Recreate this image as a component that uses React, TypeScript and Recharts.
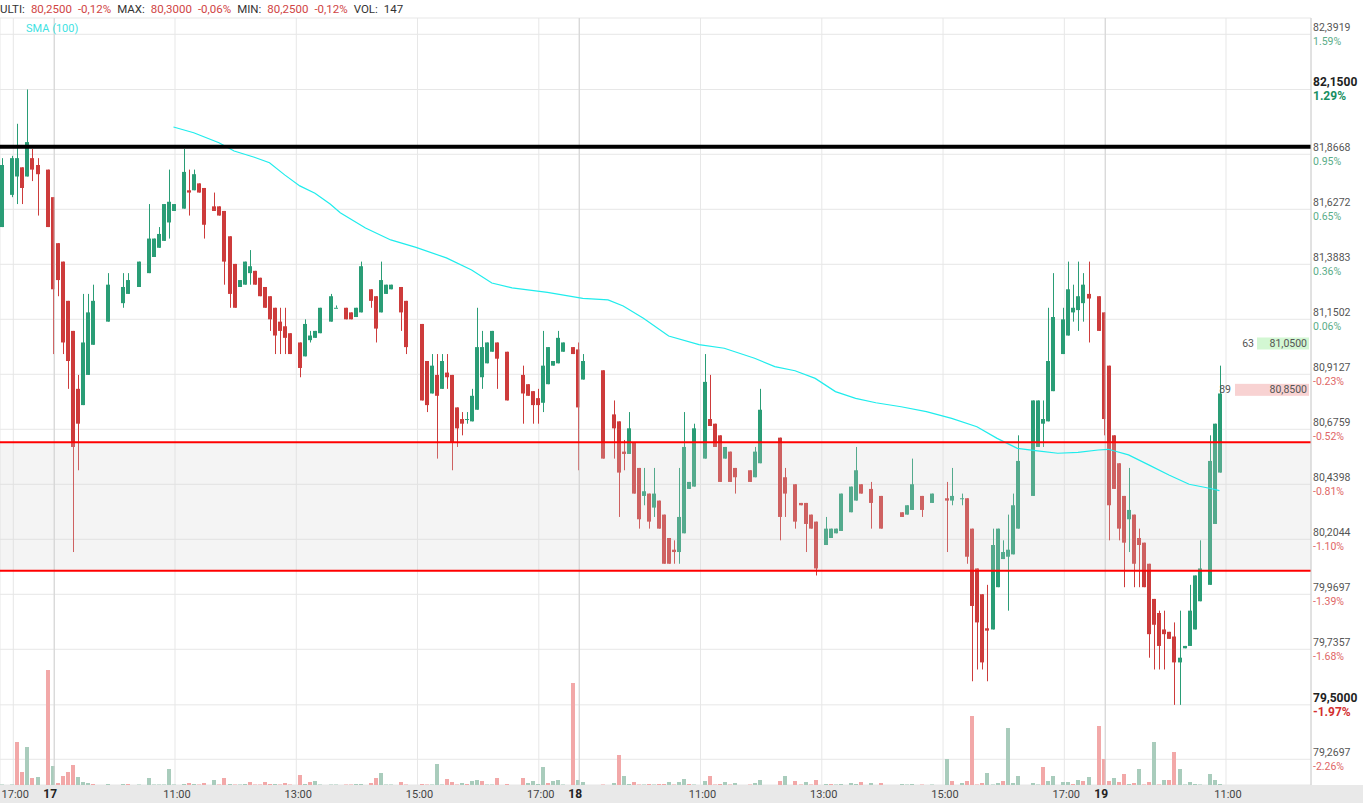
import React from 'react';
import { ComposedChart, Bar, Line, XAxis, YAxis, CartesianGrid, ReferenceLine, ReferenceArea } from 'recharts';

// 5-minute slots (gaps = no trades)
const slots = [
  -3, -1, 0, 1, 2, 3, 4, 6, 7, 8,
  9, 10, 11, 12, 13, 14, 15, 18, 21, 22,
  24, 26, 27, 28, 29, 30, 31, 33, 34, 35,
  36, 37, 39, 40, 41, 42, 43, 44, 45, 46,
  47, 48, 49, 50, 51, 52, 53, 54, 56, 57,
  58, 59, 60, 62, 63, 65, 66, 67, 68, 70,
  71, 72, 73, 74, 76, 77, 80, 81, 82, 83,
  84, 85, 86, 87, 88, 89, 90, 91, 92, 93,
  94, 95, 97, 100, 101, 102, 103, 104, 105, 106,
  107, 108, 110, 111, 112, 116, 118, 119, 120, 121,
  122, 123, 124, 125, 126, 127, 128, 129, 130, 131,
  132, 133, 134, 136, 137, 138, 139, 140, 141, 142,
  145, 146, 147, 151, 152, 154, 155, 156, 157, 158,
  160, 161, 162, 163, 165, 166, 167, 169, 171, 175,
  176, 177, 179, 181, 184, 185, 187, 188, 189, 190,
  191, 192, 193, 194, 195, 196, 197, 198, 201, 202,
  203, 204, 205, 207, 208, 209, 210, 211, 212, 214,
  215, 216, 217, 218, 219, 220, 221, 222, 223, 224,
  225, 226, 227, 228, 229, 230, 231, 232, 233, 234,
  236, 237, 238,
];

const opens = [
  81.55, 81.69, 81.77, 81.81, 81.77, 81.85, 81.82, 81.80, 81.68, 81.48,
  81.40, 81.23, 81.10, 80.85, 80.78, 80.91, 81.04, 81.14, 81.22, 81.26,
  81.29, 81.35, 81.42, 81.46, 81.49, 81.57, 81.62, 81.63, 81.71, 81.71,
  81.74, 81.72, 81.64, 81.64, 81.62, 81.51, 81.39, 81.29, 81.30, 81.35,
  81.36, 81.33, 81.29, 81.25, 81.20, 81.14, 81.12, 81.09, 81.05, 80.99,
  81.06, 81.07, 81.09, 81.14, 81.20, 81.20, 81.18, 81.16, 81.18, 81.28,
  81.25, 81.18, 81.26, 81.28, 81.29, 81.23, 81.13, 80.97, 80.83, 80.91,
  80.85, 80.92, 80.91, 80.77, 80.72, 80.72, 80.71, 80.76, 80.90, 80.96,
  81.01, 81.05, 81.01, 80.91, 80.87, 80.84, 80.81, 80.79, 80.87, 80.95,
  80.96, 81.01, 81.03, 81.02, 80.89, 80.93, 80.74, 80.71, 80.58, 80.57,
  80.62, 80.51, 80.39, 80.40, 80.34, 80.37, 80.31, 80.21, 80.16, 80.15,
  80.23, 80.42, 80.43, 80.55, 80.72, 80.70, 80.65, 80.55, 80.58, 80.51,
  80.50, 80.47, 80.53, 80.64, 80.47, 80.44, 80.36, 80.36, 80.31, 80.28,
  80.18, 80.21, 80.23, 80.24, 80.32, 80.37, 80.44, 80.42, 80.39, 80.32,
  80.31, 80.33, 80.39, 80.36, 80.38, 80.37, 80.38, 80.38, 80.25, 80.08,
  79.97, 79.825, 79.82, 80.00, 80.12, 80.13, 80.14, 80.25, 80.39, 80.60,
  80.70, 80.71, 80.84, 81.00, 81.08, 81.18, 81.19, 81.22, 81.26, 81.25,
  81.18, 80.95, 80.65, 80.53, 80.39, 80.29, 80.31, 80.21, 80.19, 80.10,
  79.95, 79.89, 79.82, 79.81, 79.79, 79.68, 79.74, 79.75, 79.82, 79.94,
  80.01, 80.27, 80.49,
];

const highs = [
  81.85, 81.86, 82.00, 81.81, 82.15, 81.89, 81.85, 81.80, 81.68, 81.48,
  81.40, 81.23, 81.10, 80.91, 81.26, 81.26, 81.30, 81.35, 81.35, 81.35,
  81.40, 81.65, 81.50, 81.55, 81.65, 81.80, 81.65, 81.89, 81.80, 81.80,
  81.74, 81.72, 81.70, 81.64, 81.62, 81.51, 81.39, 81.32, 81.40, 81.45,
  81.36, 81.33, 81.29, 81.25, 81.20, 81.20, 81.20, 81.09, 81.05, 81.15,
  81.10, 81.10, 81.20, 81.26, 81.21, 81.20, 81.18, 81.20, 81.40, 81.28,
  81.25, 81.40, 81.30, 81.30, 81.29, 81.23, 81.13, 80.97, 81.00, 81.00,
  81.00, 81.00, 80.91, 80.77, 80.75, 80.75, 80.85, 81.20, 81.10, 81.05,
  81.10, 81.05, 81.01, 80.95, 80.87, 80.84, 80.85, 81.10, 81.03, 80.97,
  81.10, 81.05, 81.03, 81.05, 81.00, 80.93, 80.80, 80.71, 80.63, 80.75,
  80.62, 80.51, 80.51, 80.40, 80.51, 80.37, 80.31, 80.21, 80.20, 80.51,
  80.75, 80.45, 80.70, 81.00, 80.91, 80.70, 80.65, 80.60, 80.58, 80.51,
  80.50, 80.60, 80.85, 80.64, 80.51, 80.44, 80.36, 80.36, 80.31, 80.28,
  80.30, 80.25, 80.25, 80.40, 80.43, 80.60, 80.44, 80.45, 80.39, 80.32,
  80.35, 80.55, 80.39, 80.40, 80.45, 80.51, 80.40, 80.38, 80.25, 80.08,
  79.97, 80.01, 80.25, 80.25, 80.20, 80.31, 80.40, 80.65, 80.80, 80.80,
  80.80, 81.20, 81.35, 81.20, 81.40, 81.30, 81.40, 81.35, 81.40, 81.25,
  81.18, 80.95, 80.65, 80.53, 80.39, 80.51, 80.31, 80.25, 80.19, 80.10,
  79.95, 79.90, 79.90, 79.81, 79.85, 79.90, 79.75, 80.01, 80.05, 80.20,
  80.65, 80.70, 80.95,
];

const lows = [
  81.55, 81.68, 81.65, 81.65, 81.77, 81.75, 81.60, 81.55, 81.00, 81.25,
  81.00, 80.85, 80.15, 80.50, 80.78, 80.91, 81.04, 81.14, 81.20, 81.26,
  81.29, 81.35, 81.42, 81.46, 81.49, 81.50, 81.62, 81.63, 81.60, 81.71,
  81.70, 81.50, 81.62, 81.60, 81.30, 81.20, 81.20, 81.29, 81.30, 81.30,
  81.30, 81.25, 81.20, 81.10, 81.00, 81.00, 81.00, 81.00, 80.90, 80.99,
  81.05, 81.07, 81.09, 81.14, 81.20, 81.15, 81.15, 81.16, 81.18, 81.20,
  81.05, 81.18, 81.26, 81.28, 81.10, 81.00, 80.80, 80.75, 80.83, 80.55,
  80.85, 80.85, 80.50, 80.60, 80.65, 80.70, 80.71, 80.76, 80.85, 80.96,
  81.01, 80.85, 80.80, 80.70, 80.82, 80.70, 80.70, 80.75, 80.87, 80.95,
  80.96, 81.01, 81.00, 80.50, 80.89, 80.55, 80.55, 80.30, 80.50, 80.57,
  80.40, 80.25, 80.35, 80.25, 80.30, 80.25, 80.10, 80.10, 80.10, 80.10,
  80.23, 80.42, 80.43, 80.55, 80.69, 80.60, 80.45, 80.55, 80.45, 80.40,
  80.45, 80.47, 80.53, 80.20, 80.30, 80.25, 80.35, 80.15, 80.25, 80.05,
  80.18, 80.21, 80.23, 80.24, 80.32, 80.37, 80.40, 80.25, 80.25, 80.30,
  80.31, 80.33, 80.30, 80.36, 80.15, 80.35, 80.35, 80.10, 79.60, 79.65,
  79.65, 79.60, 79.82, 80.00, 80.12, 79.90, 80.14, 80.25, 80.39, 80.60,
  80.60, 80.71, 80.84, 81.00, 81.08, 81.14, 81.10, 81.14, 81.05, 81.10,
  80.65, 80.20, 80.42, 80.20, 80.00, 80.15, 80.00, 80.00, 80.00, 79.70,
  79.65, 79.65, 79.65, 79.78, 79.50, 79.50, 79.74, 79.75, 79.82, 79.94,
  80.01, 80.27, 80.49,
];

const closes = [
  81.82, 81.85, 81.85, 81.72, 81.92, 81.80, 81.78, 81.55, 81.28, 81.32,
  81.05, 80.97, 80.60, 80.70, 81.05, 81.18, 81.23, 81.30, 81.29, 81.32,
  81.40, 81.50, 81.50, 81.52, 81.65, 81.66, 81.65, 81.79, 81.70, 81.78,
  81.70, 81.56, 81.62, 81.60, 81.40, 81.26, 81.20, 81.32, 81.40, 81.38,
  81.30, 81.25, 81.20, 81.15, 81.08, 81.10, 81.07, 81.00, 80.94, 81.13,
  81.08, 81.10, 81.20, 81.25, 81.20, 81.15, 81.15, 81.20, 81.38, 81.23,
  81.11, 81.32, 81.30, 81.30, 81.18, 81.03, 80.80, 80.78, 80.95, 80.82,
  80.97, 80.90, 80.62, 80.68, 80.70, 80.72, 80.82, 81.03, 81.03, 81.05,
  81.10, 80.98, 80.80, 80.83, 80.82, 80.78, 80.78, 80.95, 81.03, 80.97,
  81.07, 81.05, 81.00, 80.77, 80.97, 80.55, 80.68, 80.49, 80.57, 80.68,
  80.40, 80.29, 80.41, 80.28, 80.40, 80.25, 80.10, 80.10, 80.15, 80.30,
  80.60, 80.45, 80.68, 80.88, 80.69, 80.60, 80.45, 80.60, 80.45, 80.47,
  80.45, 80.58, 80.76, 80.30, 80.40, 80.28, 80.35, 80.27, 80.25, 80.08,
  80.25, 80.25, 80.25, 80.40, 80.43, 80.50, 80.40, 80.36, 80.25, 80.30,
  80.35, 80.44, 80.33, 80.40, 80.37, 80.39, 80.38, 80.13, 79.92, 79.85,
  79.68, 79.815, 80.18, 80.25, 80.15, 80.16, 80.35, 80.54, 80.80, 80.80,
  80.72, 80.97, 81.16, 81.15, 81.28, 81.20, 81.25, 81.30, 81.24, 81.10,
  80.72, 80.35, 80.42, 80.25, 80.19, 80.33, 80.10, 80.18, 80.00, 79.80,
  79.84, 79.75, 79.80, 79.78, 79.68, 79.70, 79.75, 79.90, 80.05, 80.08,
  80.54, 80.70, 80.83,
];

const volumes = [
  50, 50, 4300, 1300, 3800, 700, 800, 11500, 1900, 200,
  900, 1300, 2000, 800, 300, 200, 100, 100, 100, 100,
  50, 700, 50, 50, 50, 1600, 50, 100, 200, 100,
  50, 200, 500, 50, 700, 100, 50, 50, 100, 300,
  50, 50, 300, 100, 100, 50, 200, 50, 1000, 100,
  300, 400, 50, 50, 50, 50, 50, 100, 100, 200,
  700, 1200, 50, 50, 300, 50, 100, 50, 50, 2100,
  50, 600, 300, 50, 200, 100, 400, 500, 400, 50,
  50, 700, 100, 700, 200, 400, 100, 1800, 200, 400,
  500, 50, 10200, 500, 300, 50, 200, 3000, 900, 100,
  300, 50, 50, 100, 50, 100, 100, 300, 50, 300,
  600, 100, 50, 400, 900, 50, 100, 300, 50, 200,
  50, 200, 500, 400, 900, 400, 50, 300, 50, 500,
  100, 100, 50, 100, 200, 100, 300, 200, 200, 100,
  50, 100, 50, 50, 2600, 400, 200, 400, 6900, 50,
  200, 1200, 50, 200, 400, 5700, 200, 900, 200, 50,
  1800, 400, 900, 300, 300, 100, 500, 400, 800, 5900,
  2600, 400, 700, 300, 1100, 100, 200, 1600, 50, 300,
  4300, 50, 500, 500, 3300, 1600, 50, 300, 100, 50,
  1100, 500, 100,
];

const volumeUp = [
  1, 1, 0, 0, 1, 0, 1, 0, 1, 0,
  0, 0, 0, 1, 1, 1, 0, 1, 1, 0,
  1, 1, 1, 1, 1, 1, 1, 1, 0, 1,
  0, 0, 1, 0, 0, 1, 0, 1, 1, 0,
  0, 0, 0, 0, 1, 0, 0, 0, 0, 1,
  0, 1, 1, 1, 1, 0, 0, 1, 1, 0,
  0, 1, 1, 1, 0, 0, 0, 0, 1, 1,
  1, 0, 0, 0, 1, 0, 1, 1, 0, 1,
  1, 0, 0, 0, 1, 1, 1, 1, 0, 1,
  1, 1, 0, 1, 1, 0, 1, 0, 1, 1,
  0, 0, 1, 0, 1, 0, 0, 1, 0, 1,
  1, 0, 1, 1, 0, 0, 0, 1, 0, 1,
  0, 1, 1, 0, 1, 0, 0, 1, 0, 0,
  1, 0, 1, 1, 1, 1, 0, 1, 0, 1,
  1, 1, 0, 1, 1, 0, 1, 0, 0, 0,
  0, 1, 1, 1, 0, 1, 1, 1, 1, 1,
  0, 1, 1, 1, 1, 0, 1, 0, 1, 0,
  0, 0, 1, 0, 0, 1, 0, 1, 0, 0,
  1, 0, 1, 0, 0, 1, 1, 1, 1, 1,
  1, 1, 1,
];

// SMA (100) read at these slots
const smaSlots = [
  31, 35, 40, 43, 47, 50, 53, 56, 59, 62, 64, 69, 74, 79, 85, 90, 94, 98, 105, 112,
  117, 120, 124, 129, 135, 140, 146, 150, 154, 158, 162, 166, 170, 175, 180, 185, 190, 194, 198, 202,
  206, 210, 214, 216, 220, 224, 228, 232, 236, 238,
];
const smaValues = [
  81.986, 81.961, 81.917, 81.881, 81.854, 81.830, 81.777, 81.729, 81.697, 81.650, 81.612, 81.546, 81.494, 81.462, 81.416, 81.364, 81.307, 81.286, 81.267, 81.241,
  81.234, 81.208, 81.155, 81.078, 81.041, 81.025, 80.982, 80.946, 80.928, 80.895, 80.838, 80.809, 80.790, 80.773, 80.752, 80.723, 80.687, 80.637, 80.594, 80.583,
  80.573, 80.577, 80.587, 80.590, 80.566, 80.523, 80.480, 80.440, 80.423, 80.413,
];

const yTicks = [79.2697, 79.5, 79.7357, 79.9697, 80.2044, 80.4398, 80.6759, 80.9127, 81.1502, 81.3883, 81.6272, 81.8668, 82.15, 82.3919];
const yPct = ['-2.26%', '-1.97%', '-1.68%', '-1.39%', '-1.10%', '-0.81%', '-0.52%', '-0.23%', '0.06%', '0.36%', '0.65%', '0.95%', '1.29%', '1.59%'];
const yBold = [false, true, false, false, false, false, false, false, false, false, false, false, true, false];

const xTicks = [-0.7, 7.4, 31.3, 55.3, 79.3, 103.3, 111.3, 135.3, 159.3, 183.3, 207.3, 215.4, 239.3];
const xLabels = ['17:00', '17', '11:00', '13:00', '15:00', '17:00', '18', '11:00', '13:00', '15:00', '17:00', '19', '11:00'];
const daySlots = [7.4, 111.3, 215.4];

const header = [
  { t: 'ULTI:', v: false }, { t: '80,2500', v: true }, { t: '-0,12%', v: true },
  { t: 'MAX:', v: false }, { t: '80,3000', v: true }, { t: '-0,06%', v: true },
  { t: 'MIN:', v: false }, { t: '80,2500', v: true }, { t: '-0,12%', v: true },
  { t: 'VOL:', v: false }, { t: '147', v: false },
];

const resistance = 81.9;
const bandTop = 80.62;
const bandBottom = 80.07;
const askPrice = 81.05;
const askQty = '63';
const bidPrice = 80.85;
const bidQty = '89';

const GREEN = '#2a9d76';
const RED = '#cd3b3b';
const VOL_GREEN = '#a9ccbc';
const VOL_RED = '#f2a8a8';
const FONT = 'Roboto, sans-serif';

const rowMap = new Map<number, any>();
slots.forEach((k, i) => {
  rowMap.set(k, {
    k, open: opens[i], high: highs[i], low: lows[i], close: closes[i],
    vol: volumes[i], volUp: volumeUp[i] === 1,
  });
});
smaSlots.forEach((k, i) => {
  const r = rowMap.get(k) ?? { k };
  r.sma = smaValues[i];
  rowMap.set(k, r);
});
const data = [...rowMap.values()].sort((a, b) => a.k - b.k);

const fmt = (v: number) => v.toFixed(4).replace('.', ',');

const CandleShape = (props: any) => {
  const { x, y, width, height, payload } = props;
  if (!payload || payload.open == null || !isFinite(y) || !isFinite(height)) return <g />;
  const top = Math.min(y, y + height);
  const h = Math.abs(height);
  const lh = Math.log(payload.high);
  const ll = Math.log(payload.low);
  const toY = (v: number) => top + (h * (lh - Math.log(v))) / (lh - ll);
  const bx = Math.round(x + width / 2 - 2);
  const fill = payload.close >= payload.open ? GREEN : RED;
  const b1 = toY(Math.max(payload.open, payload.close));
  const b2 = toY(Math.min(payload.open, payload.close));
  return (
    <g>
      <rect x={bx + 2} y={top} width={1} height={Math.max(h, 1)} fill={fill} />
      <rect x={bx} y={b1} width={4} height={Math.max(b2 - b1, 1)} fill={fill} />
    </g>
  );
};

const VolShape = (props: any) => {
  const { x, y, width, height, payload } = props;
  if (!payload || payload.vol == null || !isFinite(y)) return <g />;
  const bx = Math.round(x + width / 2 - 2);
  return <rect x={bx} y={y} width={4} height={Math.max(height, 0.5)} fill={payload.volUp ? VOL_GREEN : VOL_RED} />;
};

const YTick = (props: any) => {
  const { x, y, index } = props;
  const bold = yBold[index];
  const pct = yPct[index];
  const neg = pct.startsWith('-');
  const pctColor = neg ? (bold ? '#d32f2f' : '#e06666') : (bold ? '#178f62' : '#5aad88');
  return (
    <g fontFamily={FONT}>
      <text x={x} y={y - 7} dominantBaseline="central" fontSize={bold ? 12 : 10.5} fontWeight={bold ? 700 : 400} fill={bold ? '#222' : '#555'}>
        {fmt(yTicks[index])}
      </text>
      <text x={x} y={y + 7} dominantBaseline="central" fontSize={bold ? 12 : 10.5} fontWeight={bold ? 700 : 400} fill={pctColor}>
        {pct}
      </text>
    </g>
  );
};

const XTick = (props: any) => {
  const { x, index } = props;
  const label = xLabels[index];
  const isDay = label.length <= 2;
  return (
    <text x={isDay ? x - 4 : x + 2} y={794} textAnchor="middle" dominantBaseline="central"
      fontFamily={FONT} fontSize={isDay ? 12 : 11} fontWeight={isDay ? 700 : 400} fill={isDay ? '#222' : '#444'}>
      {label}
    </text>
  );
};

const QuoteTag = (props: any) => {
  const { viewBox, qty, price, bg, boxW, gap } = props;
  if (!viewBox) return null;
  const right = viewBox.x + viewBox.width - 2;
  const cy = viewBox.y + 1;
  return (
    <g fontFamily={FONT} fontSize={10.5} fill="#555">
      <rect x={right - boxW} y={cy - 6} width={boxW} height={12} fill={bg} />
      <text x={right - 2} y={cy} textAnchor="end" dominantBaseline="central">{fmt(price)}</text>
      <text x={right - boxW - gap} y={cy} textAnchor="end" dominantBaseline="central">{qty}</text>
    </g>
  );
};

const App = () => {
  return (
    <div style={{ position: 'absolute', left: 0, top: 0, width: 1363, height: 803, background: '#fff', overflow: 'hidden' }}>
      <div style={{ position: 'absolute', left: 0, top: 785, width: 1363, height: 18, background: '#e9e9e9' }} />
      <div style={{ position: 'absolute', left: 0, top: 0 }}>
        <ComposedChart width={1363} height={803} data={data} margin={{ top: 18, right: 0, bottom: 0, left: 0 }}>
          <CartesianGrid stroke="#e7e7e7" />
          <XAxis dataKey="k" type="number" domain={[-3.333, 256.117]} allowDataOverflow ticks={xTicks} interval={0}
            tick={<XTick />} tickSize={0} tickMargin={0} axisLine={false} height={18} />
          <XAxis xAxisId="vol" dataKey="k" type="number" domain={[-3.333, 256.117]} allowDataOverflow hide />
          <YAxis type="number" scale="log" orientation="right" width={52} domain={[79.1612, 82.4635]} allowDataOverflow
            ticks={yTicks} interval={0} tick={<YTick />} tickSize={0} tickMargin={2} tickLine={false}
            axisLine={{ stroke: '#d0d0d0' }} />
          <YAxis yAxisId="vol" type="number" domain={[0, 76700]} allowDataOverflow hide />
          {daySlots.map((d) => (
            <ReferenceLine key={d} x={d} stroke="#d3d3d3" strokeWidth={1} />
          ))}
          <Bar dataKey="vol" xAxisId="vol" yAxisId="vol" barSize={4} shape={<VolShape />} isAnimationActive={false} />
          <Bar dataKey={(d: any) => (d.open == null ? null : [d.low, d.high])} barSize={4} shape={<CandleShape />} isAnimationActive={false} />
          <Line dataKey="sma" type="linear" stroke="#1fecec" strokeWidth={1.2} dot={false} activeDot={false} connectNulls isAnimationActive={false} />
          <ReferenceArea y1={bandBottom} y2={bandTop} fill="#d3d3d3" fillOpacity={0.25} stroke="none" zIndex={350} />
          <ReferenceLine y={resistance} stroke="#000" strokeWidth={4} zIndex={450} />
          <ReferenceLine y={bandTop} stroke="#ff0000" strokeWidth={2} zIndex={450} />
          <ReferenceLine y={bandBottom} stroke="#ff0000" strokeWidth={2} zIndex={450} />
          <ReferenceLine y={askPrice} stroke="none" label={<QuoteTag qty={askQty} price={askPrice} bg="#d3f7d3" boxW={52} gap={3} />} />
          <ReferenceLine y={bidPrice} stroke="none" label={<QuoteTag qty={bidQty} price={bidPrice} bg="#f8d2d2" boxW={74} gap={4} />} />
        </ComposedChart>
      </div>
      <div style={{ position: 'absolute', left: 0, top: 1, display: 'flex', gap: 6, fontFamily: FONT, fontSize: 11.5, lineHeight: '16px', whiteSpace: 'nowrap' }}>
        {header.map((h, i) => (
          <span key={i} style={{ color: h.v ? '#d04545' : '#333' }}>{h.t}</span>
        ))}
      </div>
      <div style={{ position: 'absolute', left: 26, top: 21, fontFamily: FONT, fontSize: 11, color: '#3fe2e2', lineHeight: '16px' }}>
        SMA (100)
      </div>
    </div>
  );
};

export default App;
